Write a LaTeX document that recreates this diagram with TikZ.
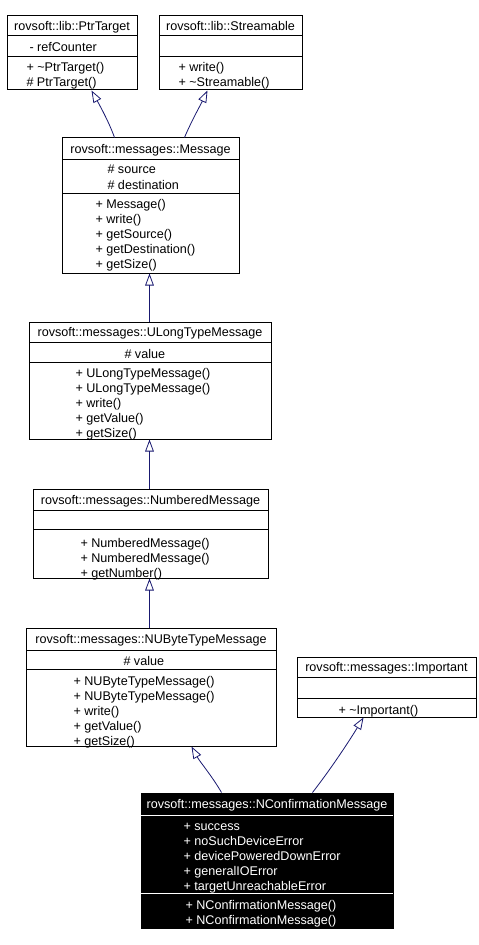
\documentclass[tikz,border=0pt]{standalone}
\usepackage{fontspec}
\setmainfont{Liberation Sans}
\usetikzlibrary{arrows.meta,calc,fit}
\definecolor{edgeblue}{RGB}{25,25,112}
\begin{document}
\begin{tikzpicture}[x=0.75pt,y=0.75pt,yscale=-1,xscale=1,
    line width=0.75pt,
    every node/.style={font=\fontsize{9.45}{11.25}\selectfont},
    classbox/.style={draw, inner sep=0pt},
    members/.style={anchor=north west, inner sep=0pt, align=left},
    clstitle/.style={anchor=center, inner sep=0pt},
    inherit/.style={draw=edgeblue, line width=0.6pt, -{Triangle[open,length=9pt,width=6.5pt]}}]
    \useasboundingbox (0,0) rectangle (478,945);
    %Shape: Rectangle [PtrTarget]
    \node[classbox, fit={(7,16) (137,90)}] (ptrTarget) {};
    \draw (7,36) -- (137,36) ;
    \draw (7,57) -- (137,57) ;
    % Text Node
    \node[clstitle] (ptrTitle) at (72,27.5) {\strut rovsoft::lib::PtrTarget};
    \node[members] (ptrAttr) at (29,41) {\strut- refCounter};
    \node[members] (ptrOps) at (26,61) {\strut+ \textasciitilde PtrTarget()\\\# PtrTarget()};
    %Shape: Rectangle [Streamable]
    \node[classbox, fit={(159,16) (302,90)}] (streamable) {};
    \draw (159,36) -- (302,36) ;
    \draw (159,57) -- (302,57) ;
    % Text Node
    \node[clstitle] (streamTitle) at (230.5,27.5) {\strut rovsoft::lib::Streamable};
    \node[members] (streamOps) at (178,61) {\strut+ write()\\+ \textasciitilde Streamable()};
    %Shape: Rectangle [Message]
    \node[classbox, fit={(62,138) (239,273)}] (message) {};
    \draw (62,160) -- (239,160) ;
    \draw (62,193) -- (239,193) ;
    % Text Node
    \node[clstitle] (msgTitle) at (150.5,150.5) {\strut rovsoft::messages::Message};
    \node[members] (msgAttr) at (107,163) {\strut\# source\\\# destination};
    \node[members] (msgOps) at (95,197) {\strut+ Message()\\+ write()\\+ getSource()\\+ getDestination()\\+ getSize()};
    %Shape: Rectangle [ULongTypeMessage]
    \node[classbox, fit={(29,322) (271,439)}] (ulong) {};
    \draw (29,342) -- (271,342) ;
    \draw (29,362) -- (271,362) ;
    % Text Node
    \node[clstitle] (ulongTitle) at (150,333.5) {\strut rovsoft::messages::ULongTypeMessage};
    \node[members] (ulongAttr) at (124,347) {\strut\# value};
    \node[members] (ulongOps) at (75,366) {\strut+ ULongTypeMessage()\\+ ULongTypeMessage()\\+ write()\\+ getValue()\\+ getSize()};
    %Shape: Rectangle [NumberedMessage]
    \node[classbox, fit={(33,489) (268,578)}] (numbered) {};
    \draw (33,510) -- (268,510) ;
    \draw (33,529) -- (268,529) ;
    % Text Node
    \node[clstitle] (numTitle) at (150.5,501) {\strut rovsoft::messages::NumberedMessage};
    \node[members] (numOps) at (80,536) {\strut+ NumberedMessage()\\+ NumberedMessage()\\+ getNumber()};
    %Shape: Rectangle [NUByteTypeMessage]
    \node[classbox, fit={(26,628) (276,746)}] (nubyte) {};
    \draw (26,650) -- (276,650) ;
    \draw (26,669) -- (276,669) ;
    % Text Node
    \node[clstitle] (nubyteTitle) at (151,640.5) {\strut rovsoft::messages::NUByteTypeMessage};
    \node[members] (nubyteAttr) at (123,654) {\strut\# value};
    \node[members] (nubyteOps) at (73,674) {\strut+ NUByteTypeMessage()\\+ NUByteTypeMessage()\\+ write()\\+ getValue()\\+ getSize()};
    %Shape: Rectangle [Important]
    \node[classbox, fit={(297,657) (476,717)}] (important) {};
    \draw (297,677) -- (476,677) ;
    \draw (297,698) -- (476,698) ;
    % Text Node
    \node[clstitle] (impTitle) at (386.5,668.5) {\strut rovsoft::messages::Important};
    \node[members] (impOps) at (338,703) {\strut+ \textasciitilde Important()};
    %Shape: Rectangle [NConfirmationMessage]
    \node[classbox, fill=black, fit={(141,793) (393,928)}] (nconfirm) {};
    \draw[white] (141,815) -- (393,815) ;
    \draw[white] (141,893) -- (393,893) ;
    % Text Node
    \node[clstitle, text=white] (nconfTitle) at (267,805.5) {\strut rovsoft::messages::NConfirmationMessage};
    \node[members, text=white] (nconfAttr) at (183,819) {\strut+ success\\+ noSuchDeviceError\\+ devicePoweredDownError\\+ generalIOError\\+ targetUnreachableError};
    \node[members, text=white] (nconfOps) at (185,898) {\strut+ NConfirmationMessage()\\+ NConfirmationMessage()};
    %Curve Lines
    \draw[inherit] ($(message.north west)+(53,0)$) .. controls (109,122) and (99,104) .. ($(ptrTarget.south west)+(85,0)$) ;
    \draw[inherit] ($(message.north west)+(123,0)$) .. controls (191,122) and (201,104) .. ($(streamable.south west)+(49,0)$) ;
    %Straight Lines
    \draw[inherit] ($(ulong.north west)+(121,0)$) -- ($(message.south west)+(88,0)$) ;
    \draw[inherit] ($(numbered.north west)+(117,0)$) -- ($(ulong.south west)+(121,0)$) ;
    \draw[inherit] ($(nubyte.north west)+(124,0)$) -- ($(numbered.south west)+(117,0)$) ;
    %Curve Lines
    \draw[inherit] ($(nconfirm.north west)+(81,0)$) .. controls (212,776) and (200,762) .. ($(nubyte.south west)+(166,0)$) ;
    \draw[inherit] ($(nconfirm.north west)+(172,0)$) .. controls (330,770) and (348,743) .. ($(important.south west)+(67,0)$) ;
\end{tikzpicture}
\end{document}
